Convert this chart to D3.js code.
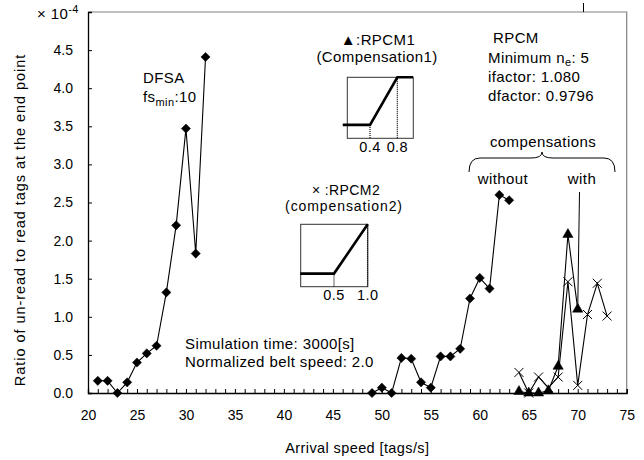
<!DOCTYPE html>
<html>
<head>
<meta charset="utf-8">
<script src="https://cdn.jsdelivr.net/npm/d3@7"></script>
<style>
    body { margin: 0; background: #fff; }
    svg { font-family: "Liberation Sans", Arial, sans-serif; }
    .tick text { font-size: 14px; fill: #000; }
    .note { font-size: 15px; letter-spacing: 0.4px; fill: #000; }
</style>
</head>
<body>
<svg id="chart" width="644" height="460"></svg>
<script>
// DFSA, two runs of arrival speeds
const dfsaSpeedA = [21, 22, 23, 24, 25, 26, 27, 28, 29, 30, 31, 32];
const dfsaRatioA = [0.16, 0.16, 0.0, 0.14, 0.40, 0.52, 0.62, 1.32, 2.20, 3.47, 1.83, 4.41];
const dfsaSpeedB = [49, 50, 51, 52, 53, 54, 55, 56, 57, 58, 59, 60, 61, 62, 63];
const dfsaRatioB = [0.0, 0.07, 0.0, 0.46, 0.45, 0.14, 0.07, 0.48, 0.48, 0.58, 1.24, 1.51, 1.37, 2.60, 2.53];

// RPCM1 (triangles) and RPCM2 (crosses)
const rpcm1Speed = [64, 65, 66, 67, 68, 69, 70];
const rpcm1Ratio = [0.02, 0.0, 0.0, 0.03, 0.35, 2.08, 1.10];
const rpcm2Speed = [64, 65, 66, 67, 68, 69, 70, 71, 72, 73];
const rpcm2Ratio = [0.27, 0.0, 0.21, 0.07, 0.21, 1.46, 0.10, 1.03, 1.44, 1.01];

const xTicks = d3.range(20, 76, 1);
const yTicks = [0, 0.5, 1.0, 1.5, 2.0, 2.5, 3.0, 3.5, 4.0, 4.5];

// compensation curves drawn in the two small insets
const comp1Curve = [[0, 0.22], [0.4, 0.22], [0.8, 1], [1.03, 1]];
const comp1Marks = [0.4, 0.8];
const comp2Curve = [[0, 0.21], [0.5, 0.21], [1, 1]];
const comp2Marks = [0.5, 1.0];

const svg = d3.select('#chart');
const margin = {top: 12, right: 17.3, bottom: 67, left: 88};
const width = 644 - margin.left - margin.right;
const height = 460 - margin.top - margin.bottom;

const x = d3.scaleLinear().domain([20, 75]).range([0, width]);
const y = d3.scaleLinear().domain([0, 5]).range([height, 0]);

const g = svg.append('g').attr('transform', `translate(${margin.left},${margin.top})`);

// frame on top and right
g.append('path')
    .attr('d', `M0,0H${width}V${height}`)
    .attr('fill', 'none')
    .attr('stroke', '#808080')
    .attr('stroke-width', 1.2);

const xAxis = d3.axisBottom(x)
    .tickValues(xTicks)
    .tickSize(-4)
    .tickPadding(17)
    .tickFormat((d) => d % 5 === 0 ? d : '');
g.append('g')
    .attr('transform', `translate(0,${height})`)
    .call(xAxis)
    .call((a) => a.select('.domain').attr('stroke-width', 1.3));

const yAxis = d3.axisLeft(y)
    .tickValues(yTicks)
    .tickSize(-4)
    .tickPadding(15)
    .tickFormat(d3.format('.1f'));
g.append('g')
    .call(yAxis)
    .call((a) => a.select('.domain').attr('stroke-width', 1.3));

// x10^-4 multiplier where the 5.0 label would be
const mult = svg.append('text').attr('class', 'note').attr('x', 37).attr('y', 19);
mult.append('tspan').text('× 10');
mult.append('tspan').attr('font-size', 11).attr('dy', -6).text('-4');

svg.append('text')
    .attr('class', 'note')
    .attr('transform', 'translate(25,220) rotate(-90)')
    .attr('text-anchor', 'middle')
    .style('font-size', '14.5px')
    .style('letter-spacing', '0.95px')
    .text('Ratio of un-read to read tags at the end point');

svg.append('text')
    .attr('class', 'note')
    .attr('x', margin.left + width / 2)
    .attr('y', 453)
    .attr('text-anchor', 'middle')
    .style('font-size', '14.5px')
    .text('Arrival speed [tags/s]');

const line = d3.line().x((d) => x(d[0])).y((d) => y(d[1]));

function drawSeries(speeds, ratios, marker) {
    const pts = speeds.map((s, i) => [s, ratios[i]]);
    g.append('path')
        .datum(pts)
        .attr('fill', 'none')
        .attr('stroke', '#000')
        .attr('stroke-width', 1.1)
        .attr('d', line);
    g.selectAll(null)
        .data(pts)
        .enter()
        .append('path')
        .attr('transform', (d) => `translate(${x(d[0])},${y(d[1])})` + marker.rotate)
        .attr('d', marker.d)
        .attr('fill', marker.fill)
        .attr('stroke', '#000')
        .attr('stroke-width', marker.sw);
}

const diamond = {d: d3.symbol(d3.symbolSquare, 42)(), rotate: ' rotate(45)', fill: '#000', sw: 0.5};
const triangle = {d: d3.symbol(d3.symbolTriangle, 46)(), rotate: '', fill: '#000', sw: 0.5};
const cross = {d: 'M-4.5,-4.5L4.5,4.5M-4.5,4.5L4.5,-4.5', rotate: '', fill: 'none', sw: 1};

drawSeries(dfsaSpeedA, dfsaRatioA, diamond);
drawSeries(dfsaSpeedB, dfsaRatioB, diamond);
drawSeries(rpcm2Speed, rpcm2Ratio, cross);
drawSeries(rpcm1Speed, rpcm1Ratio, triangle);

// annotations
function note(px, py, str, anchor) {
    return svg.append('text')
        .attr('class', 'note')
        .attr('x', px)
        .attr('y', py)
        .attr('text-anchor', anchor || 'start')
        .text(str);
}

note(143, 83, 'DFSA');
const fs = note(143, 101.5, 'fs');
fs.append('tspan').attr('font-size', 11).attr('dy', 4).text('min');
fs.append('tspan').attr('dy', -4).text(':10');

note(378, 45, '▲:RPCM1', 'middle');
note(377, 61.5, '(Compensation1)', 'middle');
note(346, 194.5, '× :RPCM2', 'middle').style('font-size', '14px');
note(344, 210.5, '(compensation2)', 'middle').style('font-size', '14px').style('letter-spacing', '0.9px');

note(493, 43, 'RPCM');
const ne = note(488, 62.5, 'Minimum n');
ne.append('tspan').attr('font-size', 11).attr('dy', 3).text('e');
ne.append('tspan').attr('dy', -3).text(': 5');
note(488, 81.5, 'ifactor: 1.080');
note(488, 100.5, 'dfactor: 0.9796');

note(185, 349, 'Simulation time: 3000[s]');
note(185, 367, 'Normalized belt speed: 2.0');

note(543, 147, 'compensations', 'middle');
note(503, 184, 'without', 'middle');
note(582, 184, 'with', 'middle');

// brace over without / with
svg.append('path')
    .attr('d', 'M469,172 Q469,158 480,158 H531 Q542,158 542,152 Q542,158 553,158 H604 Q615,158 615,172')
    .attr('fill', 'none')
    .attr('stroke', '#000')
    .attr('stroke-width', 1);

// pointer from "with" to the RPCM1 point at 70
svg.append('line')
    .attr('x1', 579.5).attr('y1', 192)
    .attr('x2', margin.left + x(70)).attr('y2', margin.top + y(1.10))
    .attr('stroke', '#000')
    .attr('stroke-width', 1);
svg.append('line')
    .attr('x1', 583.5).attr('y1', 3).attr('x2', 583.5).attr('y2', 12)
    .attr('stroke', '#000');

// inset graph of a compensation function
function inset(curve, marks, box, domX) {
    const ix = d3.scaleLinear().domain(domX).range([box.x0, box.x1]);
    const iy = d3.scaleLinear().domain([0, 1]).range([box.y1, box.y0]);
    const ig = svg.append('g');
    ig.append('rect')
        .attr('x', ix(domX[0])).attr('y', iy(1))
        .attr('width', ix(domX[1]) - ix(domX[0]))
        .attr('height', iy(0) - iy(1))
        .attr('fill', 'none')
        .attr('stroke', '#333')
        .attr('stroke-width', 1);
    const low = curve[0][1];
    ig.selectAll(null)
        .data(marks)
        .enter()
        .append('line')
        .attr('x1', (d) => ix(d)).attr('x2', (d) => ix(d))
        .attr('y1', (d) => iy(d === marks[0] ? low : 1))
        .attr('y2', iy(0))
        .attr('stroke', '#000')
        .attr('stroke-width', 1.2)
        .attr('stroke-dasharray', '1,1');
    ig.append('path')
        .datum(curve)
        .attr('d', d3.line().x((d) => ix(d[0])).y((d) => iy(d[1])))
        .attr('fill', 'none')
        .attr('stroke', '#000')
        .attr('stroke-width', 2.6);
    ig.selectAll(null)
        .data(marks)
        .enter()
        .append('text')
        .attr('class', 'note')
        .attr('x', (d) => ix(d))
        .attr('y', box.y1 + 13.5)
        .attr('text-anchor', 'middle')
        .style('font-size', '14.5px')
        .text((d) => d.toFixed(1));
}

inset(comp1Curve, comp1Marks, {x0: 347.3, x1: 413.3, y0: 77.3, y1: 138.3}, [0.067, 1.034]);
inset(comp2Curve, comp2Marks, {x0: 300.7, x1: 367.7, y0: 224.3, y1: 286.7}, [0.006, 1.0]);
</script>
</body>
</html>
